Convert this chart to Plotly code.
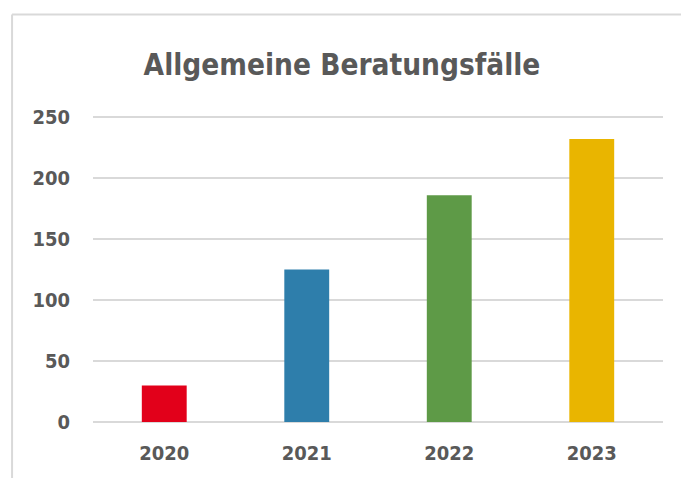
import plotly.graph_objects as go

# chart data
years = ["2020", "2021", "2022", "2023"]
cases = [30, 125, 186, 232]
bar_colors = ["#E2001A", "#2E7EAB", "#5E9A47", "#E9B500"]
y_ticks = [0, 50, 100, 150, 200, 250]

# the page body adds an 8px offset, so the figure is 8px smaller than the window
W, H = 681, 470
TEXT = "#595959"
GRID = "#D9D9D9"
FONT = "DejaVu Sans Condensed"

L, R, T, B = 84.5, 26, 102.6, 56.3
PW, PH = W - L - R, H - T - B

fig = go.Figure(go.Bar(x=years, y=cases, marker=dict(color=bar_colors, line=dict(width=0)),
                       hoverinfo="x+y"))

fig.update_layout(
    width=W, height=H,
    margin=dict(l=L, r=R, t=T, b=B),
    paper_bgcolor="white", plot_bgcolor="white",
    bargap=0.685,
    showlegend=False,
    font=dict(family=FONT, color=TEXT, size=20, weight="bold"),
    title=dict(text="Allgemeine Beratungsfälle", x=334 / W, xanchor="center",
               xref="container", yref="container", y=1 - 57 / H, yanchor="middle",
               font=dict(family=FONT, size=29.5, color=TEXT, weight="bold")),
)

fig.update_xaxes(showgrid=False, showline=False, zeroline=False, ticks="",
                 ticklabelstandoff=17,
                 tickfont=dict(family=FONT, size=20, color=TEXT, weight="bold"))
fig.update_yaxes(range=[0, 255], tickvals=y_ticks, showgrid=True, gridcolor=GRID, gridwidth=2,
                 zeroline=True, zerolinecolor=GRID, zerolinewidth=2, showline=False, ticks="",
                 ticklabelstandoff=22,
                 tickfont=dict(family=FONT, size=20, color=TEXT, weight="bold"))

# chart frame (top and left edges visible in the crop)
fx = (3.5 - L) / PW
fy = (H - B - 6) / PH
fig.add_shape(type="line", xref="paper", yref="paper", layer="below",
              x0=fx, x1=1.2, y0=fy, y1=fy, line=dict(color=GRID, width=2))
fig.add_shape(type="line", xref="paper", yref="paper", layer="below",
              x0=fx, x1=fx, y0=fy, y1=-0.3, line=dict(color=GRID, width=2))

fig.write_html("out.html")
